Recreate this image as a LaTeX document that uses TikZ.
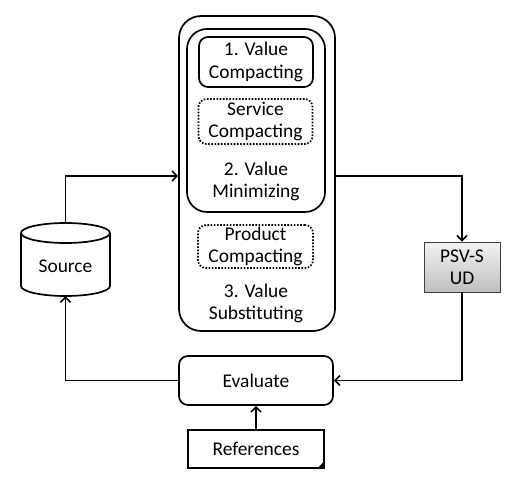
\documentclass[tikz,border=0pt]{standalone}
\usepackage{fontspec}
\setmainfont{Carlito}
\usetikzlibrary{arrows.meta,positioning,calc}
\begin{document}
\begin{tikzpicture}[x=1bp,y=-1bp,
  every node/.style={font=\fontsize{19.5}{22.5}\selectfont, align=center, inner sep=0pt},
  ln/.style={line width=1.7bp},
  rbox/.style={ln, draw, rounded corners=#1},
  rbox/.default=8bp,
  dotbox/.style={line width=1.7bp, draw, rounded corners=8bp, dash pattern=on 1.6bp off 1.6bp},
  arr/.style={ln, -{Straight Barb[length=5bp,width=10bp,line width=1.6bp]}},
  ]
\useasboundingbox (0,0) rectangle (516,488);
% central block
\node[rbox=22bp, minimum width=156bp, minimum height=315bp] (outer) at (257,173.5) {};
\node[rbox=20bp, minimum width=138bp, minimum height=183bp] (inner) at (256,120.5) {};
\node[rbox=9bp, minimum width=114bp, minimum height=50bp] (vc) at (256,62) {1. Value\\Compacting};
\node[dotbox, minimum width=114bp, minimum height=45bp] (sc) at (255.5,121.5) {Service\\Compacting};
\node (vm) at (256,181.5) {2. Value\\Minimizing};
\node[dotbox, minimum width=115bp, minimum height=43bp] (pc) at (255.5,246.5) {Product\\Compacting};
\node (vs) at (256,303.5) {3. Value\\Substituting};
% evaluate and references
\node[rbox=9bp, minimum width=154bp, minimum height=49bp] (eval) at (256,380.5) {Evaluate};
\node[ln, draw, minimum width=136bp, minimum height=38bp] (refs) at (256,449) {References};
\fill ($(refs.south east)+(-8,0)$) -- (refs.south east) -- ($(refs.south east)+(0,-8)$) -- cycle;
% PSV-SUD
\node[draw=black!75, line width=0.8bp, top color=black!5, bottom color=black!25, minimum width=76bp, minimum height=50bp] (psv) at (462,267) {PSV-S\\UD};
% source cylinder
\draw[ln, fill=white] (21,233) -- (21,286) arc[start angle=180, end angle=0, x radius=44.5, y radius=10] -- (110,233);
\draw[ln] (65.5,233) ellipse[x radius=44.5, y radius=10];
\node[minimum width=89bp, minimum height=73bp] (src) at (65.5,259.5) {};
\node (srclabel) at (65.5,266) {Source};
% connectors
\coordinate (inL) at ($(outer.west)+(0,2.5)$);
\coordinate (outR) at ($(outer.east)+(0,2.5)$);
\draw[arr] (src.north) |- (inL);
\draw[arr] (outR) -| (psv.north);
\draw[arr] (psv.south) |- (eval.east);
\draw[arr] (eval.west) -| (src.south);
\draw[arr] (refs.north) -- (eval.south);
\end{tikzpicture}
\end{document}
